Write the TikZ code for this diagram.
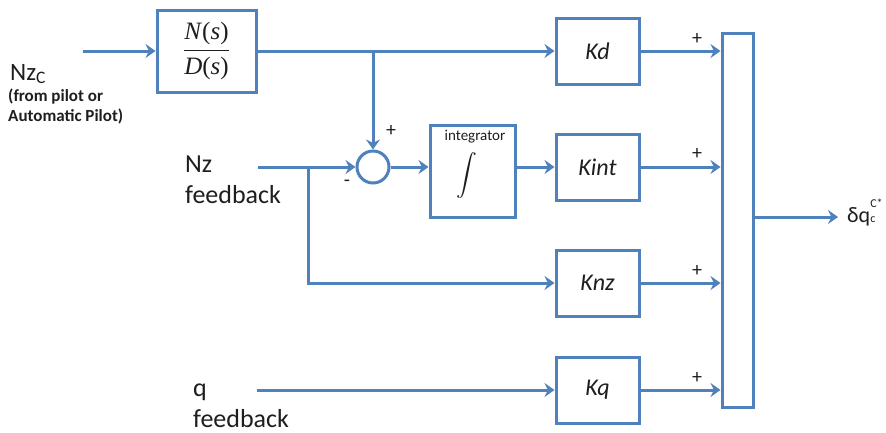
\RequirePackage{fix-cm}
\documentclass[tikz,border=0pt]{standalone}
\usepackage{amsmath}
\usepackage{fontspec}
\setmainfont{Carlito}
\newfontfamily\cambria{Liberation Serif}
\usetikzlibrary{arrows.meta}
\definecolor{lineblue}{RGB}{79,129,189}
\definecolor{txt}{RGB}{30,30,30}
\newcommand{\fsz}[1]{\fontsize{#1}{#1}\selectfont}
\newcommand{\mth}[1]{\hbox{\cambria\itshape #1\/\upshape(\itshape s\/\upshape)}}
\begin{document}
\begin{tikzpicture}[x=1pt,y=-1pt,
  blk/.style={draw=lineblue,line width=3pt,minimum width=83pt,minimum height=66pt,inner sep=0pt,text=txt},
  wire/.style={draw=lineblue,line width=3pt},
  arr/.style={wire,-{Stealth[length=10pt,width=14pt,inset=3.5pt]}},
  lbl/.style={inner sep=0pt,text=txt,font=\fsz{26}},
  gain/.style={blk,font=\fsz{24}\itshape},
  sgn/.style={inner sep=0pt,text=txt,font=\fsz{20}}]
\useasboundingbox (0,0) rectangle (886,432);
\fill[white] (0,0) rectangle (886,432);

% blocks
\node[blk,minimum width=99pt,minimum height=82pt,font=\fsz{25}] (nd) at (206.5,51) {$\dfrac{\mth{N}}{\mth{D}}$};
\node[gain] (kd) at (597.5,51) {Kd};
\node[gain] (kint) at (597.5,167) {Kint};
\node[gain] (knz) at (597.5,283) {Knz};
\node[gain] (kq) at (597.5,390) {Kq};
\node[draw=lineblue,line width=3pt,circle,minimum size=32pt,inner sep=0pt] (sum) at (373,167) {};
\node[blk,minimum width=85pt,minimum height=92pt] (integ) at (472.5,171) {};
\node[sgn,font=\fsz{15}] (intlbl) at (475,137) {integrator};
\node[inner sep=0pt,font=\fsz{21},text=txt] (intsym) at (467,181) {\smash{$\displaystyle\int$}};
\node[draw=lineblue,line width=3pt,minimum width=31pt,minimum height=374pt,inner sep=0pt] (bar) at (737.5,220) {};

% free ends
\coordinate (nzcin) at (83,51);
\coordinate (nzfb) at (258,167);
\coordinate (tap) at (308,167);
\coordinate (qin) at (257,390);
\coordinate (out) at (838,217);
\coordinate (split) at (sum.north |- nd.east);

% connectors
\draw[arr] (nzcin) -- (nd.west);
\draw[arr] (nd.east) -- (kd.west);
\draw[arr] (split) -- (sum.north);
\draw[arr] (nzfb) -- (sum.west);
\draw[arr] (tap) |- (knz.west);
\draw[arr] (sum.east) -- (sum.east -| integ.west);
\draw[arr] (sum.east -| integ.east) -- (kint.west);
\draw[arr] (qin) -- (kq.west);
\draw[arr] (kd.east) -- (kd.east -| bar.west);
\draw[arr] (kint.east) -- (kint.east -| bar.west);
\draw[arr] (knz.east) -- (knz.east -| bar.west);
\draw[arr] (kq.east) -- (kq.east -| bar.west);
\draw[arr] (out -| bar.east) -- (out);

% labels
\node[lbl,anchor=base west,font=\fsz{25}] (nzc) at (10,80) {Nz\textsubscript{C}};
\node[inner sep=0pt,anchor=base west,text=txt,font=\fsz{17}\bfseries] (src1) at (8,101) {(from pilot or};
\node[inner sep=0pt,anchor=base west,text=txt,font=\fsz{17}\bfseries] (src2) at (8,121) {Automatic Pilot)};
\node[lbl,anchor=base west] (nzl) at (185,172) {Nz};
\node[lbl,anchor=base west] (nzfbl) at (185,203) {feedback};
\node[lbl,anchor=base west] (ql) at (193,396) {q};
\node[lbl,anchor=base west] (qfbl) at (193,427) {feedback};
\node[sgn] (psum) at (391,131) {+};
\node[sgn] (msum) at (347,183) {-};
\node[sgn] (p1) at (697,39) {+};
\node[sgn] (p2) at (697,154) {+};
\node[sgn] (p3) at (697,271) {+};
\node[sgn] (p4) at (697,378) {+};
\node[inner sep=0pt,anchor=base west,text=txt,font=\fsz{22}] (outlbl) at (847,222) {δq\rlap{\fsz{12}\raisebox{15pt}{C*}}{\fsz{12}c}};
\end{tikzpicture}
\end{document}
